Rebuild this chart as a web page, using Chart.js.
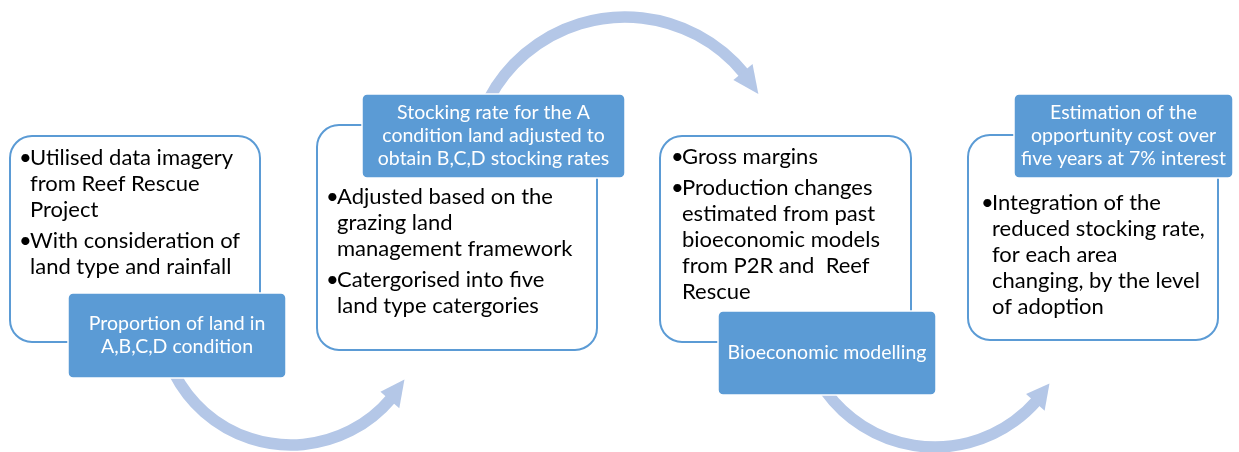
<!DOCTYPE html>
<html>
<head>
<meta charset="utf-8">
<script src="https://cdn.jsdelivr.net/npm/chart.js@4"></script>
<style>
html, body { margin: 0; padding: 0; background: #fff; }
canvas { display: block; }
</style>
</head>
<body>
<canvas id="myChart" width="1239" height="452"></canvas>
<script>
// Texto de cada paso del proceso
const stepTitles = [
    ['Proportion of land in', 'A,B,C,D condition'],
    ['Stocking rate for the A', 'condition land adjusted to', 'obtain B,C,D stocking rates'],
    ['Bioeconomic modelling'],
    ['Estimation of the', 'opportunity cost over', 'five years at 7% interest']
];
const stepBullets = [
    [['Utilised data imagery', 'from Reef Rescue', 'Project'], ['With consideration of', 'land type and rainfall']],
    [['Adjusted based on the', 'grazing land', 'management framework'], ['Catergorised into five', 'land type catergories']],
    [['Gross margins'], ['Production changes', 'estimated from past', 'bioeconomic models', 'from P2R and  Reef', 'Rescue']],
    [['Integration of the', 'reduced stocking rate,', 'for each area', 'changing, by the level', 'of adoption']]
];

// Posiciones (en unidades de la escala, 1 unidad = 1 px)
const layout = [
    { box: [10, 136, 260, 342], title: [68, 293, 286, 378], textX: 20, textY: 158 },
    { box: [317, 125, 597, 350], title: [362, 94, 625, 178], textX: 327, textY: 197 },
    { box: [660, 136, 911, 342], title: [718, 311, 936, 395], textX: 672, textY: 157 },
    { box: [968, 135, 1218, 340], title: [1014, 94, 1233, 178], textX: 982, textY: 203 }
];
// Flechas: centro, radio, ángulo inicial, ángulo base de la punta, ángulo de la punta (grados)
const arrows = [
    { c: [291, 314], r: 131, a0: 153, a1: 41, a2: 30 },
    { c: [625, 171], r: 154, a0: 208, a1: 320, a2: 330 },
    { c: [935, 312], r: 135, a0: 144, a1: 42, a2: 32 }
];

const BLUE = '#5b9bd5';
const ARROW = '#b4c7e7';
const FONT = 'Lato, "Open Sans", sans-serif';

function roundRect(ctx, x0, y0, x1, y1, r) {
    ctx.beginPath();
    ctx.moveTo(x0 + r, y0);
    ctx.arcTo(x1, y0, x1, y1, r);
    ctx.arcTo(x1, y1, x0, y1, r);
    ctx.arcTo(x0, y1, x0, y0, r);
    ctx.arcTo(x0, y0, x1, y0, r);
    ctx.closePath();
}

const diagramPlugin = {
    id: 'diagram',
    afterDatasetsDraw(chart) {
        const ctx = chart.ctx;
        const sx = v => chart.scales.x.getPixelForValue(v);
        const sy = v => chart.scales.y.getPixelForValue(v);
        const k = sx(1) - sx(0);
        ctx.save();

        // flechas curvas
        arrows.forEach(a => {
            const cx = sx(a.c[0]), cy = sy(a.c[1]), r = a.r * k;
            const rad = d => d * Math.PI / 180;
            const ccw = a.a1 < a.a0;
            ctx.strokeStyle = ARROW;
            ctx.lineWidth = 11.5 * k;
            ctx.lineCap = 'butt';
            ctx.beginPath();
            ctx.arc(cx, cy, r, rad(a.a0), rad(a.a1 + (ccw ? -1 : 1)), ccw);
            ctx.stroke();
            const t = rad(a.a1);
            const bx = cx + r * Math.cos(t), by = cy + r * Math.sin(t);
            const nx = Math.cos(t), ny = Math.sin(t);
            const hw = 12.5 * k;
            const tip = rad(a.a2);
            const tx = cx + r * Math.cos(tip), ty = cy + r * Math.sin(tip);
            ctx.fillStyle = ARROW;
            ctx.beginPath();
            ctx.moveTo(bx + nx * hw, by + ny * hw);
            ctx.lineTo(tx, ty);
            ctx.lineTo(bx - nx * hw, by - ny * hw);
            ctx.closePath();
            ctx.fill();
        });

        layout.forEach((L, i) => {
            // caja blanca
            const [x0, y0, x1, y1] = L.box;
            roundRect(ctx, sx(x0), sy(y0), sx(x1), sy(y1), 22 * k);
            ctx.fillStyle = '#fff';
            ctx.fill();
            ctx.strokeStyle = BLUE;
            ctx.lineWidth = 2 * k;
            ctx.stroke();

            // viñetas
            ctx.fillStyle = '#000';
            ctx.font = (22 * k) + 'px ' + FONT;
            ctx.textBaseline = 'middle';
            ctx.textAlign = 'left';
            let y = L.textY;
            stepBullets[i].forEach((b, j) => {
                if (j > 0) y += 5;
                b.forEach((line, m) => {
                    if (m === 0) ctx.fillText('\u2022', sx(L.textX - 1), sy(y));
                    ctx.fillText(line, sx(L.textX + 10), sy(y));
                    y += 26;
                });
            });

            // caja azul
            const [t0, u0, t1, u1] = L.title;
            roundRect(ctx, sx(t0), sy(u0), sx(t1), sy(u1), 5 * k);
            ctx.fillStyle = BLUE;
            ctx.fill();
            ctx.strokeStyle = '#fff';
            ctx.lineWidth = 1.5 * k;
            ctx.stroke();
            ctx.fillStyle = '#fff';
            ctx.font = (19.5 * k) + 'px ' + FONT;
            ctx.textAlign = 'center';
            const lines = stepTitles[i];
            const lh = 23;
            const cyT = (u0 + u1) / 2 - (lines.length - 1) * lh / 2;
            lines.forEach((line, m) => {
                ctx.fillText(line, sx((t0 + t1) / 2), sy(cyT + m * lh));
            });
        });
        ctx.restore();
    }
};

const ctx = document.getElementById('myChart').getContext('2d');
const myChart = new Chart(ctx, {
    type: 'scatter',
    data: { datasets: [] },
    options: {
        responsive: false,
        animation: false,
        layout: { padding: 0 },
        plugins: { legend: { display: false }, tooltip: { enabled: false } },
        scales: {
            x: { type: 'linear', min: 0, max: 1239, display: false },
            y: { type: 'linear', min: 0, max: 452, reverse: true, display: false }
        }
    },
    plugins: [diagramPlugin]
});
</script>
</body>
</html>
